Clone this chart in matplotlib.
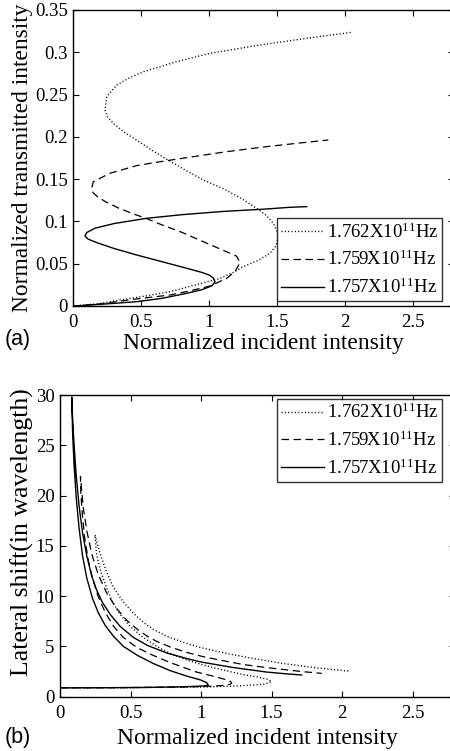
import matplotlib
matplotlib.use("Agg")
import matplotlib.pyplot as plt

plt.rcParams['font.family'] = ['Liberation Serif', 'DejaVu Serif']
plt.rcParams['mathtext.fontset'] = 'custom'
plt.rcParams['mathtext.rm'] = 'Liberation Serif'
plt.rcParams['mathtext.it'] = 'Liberation Serif:italic'

# ---------------- data ----------------
labels = [r"1.762X10$^{\mathrm{11}}$Hz", r"1.759X10$^{\mathrm{11}}$Hz", r"1.757X10$^{\mathrm{11}}$Hz"]

# panel (a): transmitted vs incident intensity
a_dot_x = [0, 0.2, 0.343, 0.5, 0.711, 0.9, 1.079, 1.18, 1.25, 1.36, 1.446, 1.49, 1.507, 1.495, 1.47,
           1.42, 1.348, 1.238, 1.1, 0.956, 0.82, 0.687, 0.58, 0.466, 0.37, 0.294, 0.25, 0.233, 0.246,
           0.319, 0.415, 0.515, 0.76, 1.005, 1.373, 1.716, 2.047]
a_dot_y = [0, 0.003, 0.0071, 0.011, 0.0169, 0.025, 0.0327, 0.040, 0.0465, 0.054, 0.0623, 0.071, 0.082,
           0.090, 0.0978, 0.107, 0.1155, 0.127, 0.139, 0.149, 0.161, 0.1735, 0.184, 0.196, 0.206, 0.216,
           0.224, 0.2318, 0.2475, 0.2613, 0.270, 0.277, 0.2889, 0.2988, 0.3086, 0.3165, 0.3236]

a_dash_x = [0, 0.196, 0.441, 0.711, 0.86, 1.005, 1.128, 1.19, 1.226, 1.2, 1.1, 0.956, 0.8, 0.65, 0.545,
            0.44, 0.33, 0.24, 0.18, 0.145, 0.135, 0.147, 0.27, 0.466, 0.637, 0.9, 1.128, 1.45, 1.74, 1.875]
a_dash_y = [0, 0.0024, 0.0079, 0.013, 0.018, 0.0236, 0.0327, 0.041, 0.0515, 0.059, 0.066, 0.076, 0.087,
            0.096, 0.103, 0.109, 0.116, 0.123, 0.129, 0.134, 0.139, 0.147, 0.157, 0.166, 0.1706, 0.177,
            0.1825, 0.189, 0.194, 0.1963]

a_sol_x = [0, 0.05, 0.2, 0.466, 0.65, 0.834, 0.95, 1.02, 1.042, 1.03, 1.0, 0.95, 0.834, 0.65, 0.466,
           0.3, 0.18, 0.11, 0.086, 0.1, 0.16, 0.3, 0.54, 0.8, 1.1, 1.4, 1.593, 1.716]
a_sol_y = [0, 0.0004, 0.002, 0.0051, 0.009, 0.015, 0.0195, 0.024, 0.0285, 0.033, 0.0365, 0.0395, 0.0446,
           0.0525, 0.0603, 0.068, 0.0745, 0.079, 0.0828, 0.0870, 0.092, 0.0975, 0.1037, 0.108, 0.1118,
           0.1145, 0.1167, 0.1175]

# panel (b): lateral shift vs incident intensity
b_dot_x = [0, 0.5, 1.0, 1.277, 1.45, 1.5, 1.48, 1.42, 1.3, 1.206, 1.1, 1.016, 0.898, 0.78, 0.686,
           0.58, 0.496, 0.42, 0.37, 0.331, 0.29, 0.26, 0.248, 0.284, 0.33, 0.378, 0.45, 0.52, 0.6,
           0.662, 0.757, 0.898, 0.993, 1.2, 1.35, 1.584, 1.8, 2.045]
b_dot_y = [0.88, 0.9, 0.95, 1.08, 1.25, 1.49, 1.7, 1.9, 2.2, 2.5, 2.85, 3.15, 3.65, 4.3, 5.0,
           6.0, 7.0, 8.3, 9.5, 10.8, 12.4, 14.1, 16.1, 14.25, 12.4, 10.9, 9.4, 8.3, 7.3,
           6.7, 6.0, 5.3, 4.9, 4.25, 3.85, 3.3, 2.9, 2.55]

b_dash_x = [0, 0.4, 0.8, 1.05, 1.17, 1.21, 1.218, 1.2, 1.15, 1.111, 0.969, 0.898, 0.78, 0.662, 0.544,
            0.449, 0.38, 0.32, 0.27, 0.23, 0.2, 0.175, 0.158, 0.148, 0.145, 0.165, 0.19, 0.225, 0.27,
            0.331, 0.4, 0.473, 0.544, 0.62, 0.686, 0.78, 0.9, 1.016, 1.15, 1.3, 1.45, 1.6, 1.73, 1.856]
b_dash_y = [0.88, 0.9, 0.95, 1.03, 1.13, 1.25, 1.39, 1.6, 1.8, 1.95, 2.45, 2.8, 3.4, 4.1, 4.9,
            5.9, 7.0, 8.4, 10.0, 11.8, 13.6, 15.8, 18.2, 20.2, 21.9, 18.8, 16.5, 14.2, 12.2,
            10.3, 8.8, 7.6, 6.75, 6.0, 5.5, 4.95, 4.4, 3.98, 3.6, 3.2, 2.92, 2.68, 2.48, 2.32]

b_sol_x = [0, 0.3, 0.6, 0.85, 0.98, 1.03, 1.052, 1.04, 1.0, 0.95, 0.898, 0.78, 0.662, 0.55, 0.45,
           0.38, 0.32, 0.27, 0.23, 0.19, 0.16, 0.135, 0.115, 0.1, 0.09, 0.083, 0.09, 0.1, 0.115, 0.135,
           0.16, 0.19, 0.225, 0.26, 0.3, 0.355, 0.426, 0.52, 0.62, 0.757, 0.898, 1.0, 1.229, 1.466,
           1.6, 1.714]
b_sol_y = [0.88, 0.89, 0.92, 0.98, 1.04, 1.09, 1.16, 1.4, 1.65, 1.85, 2.05, 2.6, 3.3, 4.1, 5.0,
           6.0, 7.1, 8.4, 9.8, 11.8, 14.0, 16.8, 19.8, 23.0, 26.0, 29.8, 27.5, 25.0, 22.0, 19.0,
           16.3, 14.0, 12.0, 10.6, 9.4, 8.2, 7.0, 5.9, 5.1, 4.35, 3.8, 3.45, 2.9, 2.45,
           2.28, 2.16]

x_ticks = [0, 0.5, 1, 1.5, 2, 2.5]
x_ticklabels = ["0", "0.5", "1", "1.5", "2", "2.5"]
a_yticks = [0, 0.05, 0.1, 0.15, 0.2, 0.25, 0.3, 0.35]
a_yticklabels = ["0", "0.05", "0.1", "0.15", "0.2", "0.25", "0.3", "0.35"]
b_yticks = [0, 5, 10, 15, 20, 25, 30]
b_yticklabels = ["0", "5", "10", "15", "20", "25", "30"]

# ---------------- figure ----------------
W, H = 450, 751
fig = plt.figure(figsize=(W / 100, H / 100), dpi=100)

dot_style = dict(color='black', lw=1.0, dashes=(0.8, 1.6))
dash_style = dict(color='black', lw=0.9, dashes=(6.0, 3.6))
sol_style = dict(color='black', lw=1.0)

TICK_FS = 13.5


def style_axes(ax):
    ax.tick_params(direction='in', length=4, width=0.8, top=True, right=True,
                   labelsize=TICK_FS, pad=4)
    ax.tick_params(axis='x', pad=6)
    for s in ax.spines.values():
        s.set_linewidth(1.0)


def add_legend(ax, loc, anchor):
    leg = ax.legend(loc=loc, bbox_to_anchor=anchor, bbox_transform=fig.transFigure,
                    fontsize=TICK_FS, frameon=True, fancybox=False, edgecolor='black',
                    handlelength=2.3, handletextpad=0.15, borderpad=0.2, labelspacing=0.45,
                    borderaxespad=0)
    leg.get_frame().set_linewidth(1.0)
    return leg


# panel (a)
ax1 = fig.add_axes([73.3 / W, (H - 306) / H, 2.8 * 136 / W, 296 / H])
ax1.plot(a_dot_x, a_dot_y, label=labels[0], **dot_style)
ax1.plot(a_dash_x, a_dash_y, label=labels[1], **dash_style)
ax1.plot(a_sol_x, a_sol_y, label=labels[2], **sol_style)
ax1.set_xlim(0, 2.8)
ax1.set_ylim(0, 0.35)
ax1.set_xticks(x_ticks)
ax1.set_xticklabels(x_ticklabels)
ax1.set_yticks(a_yticks)
ax1.set_yticklabels(a_yticklabels)
style_axes(ax1)
ax1.set_xlabel("Normalized incident intensity", fontsize=17, labelpad=1)
ax1.set_ylabel("Normalized transmitted intensity", fontsize=16.8, labelpad=1)
add_legend(ax1, 'lower right', (442 / W, (H - 301) / H))

# panel (b)
ax2 = fig.add_axes([60 / W, (H - 696.7) / H, 2.8 * 141 / W, 301.7 / H])
ax2.plot(b_dot_x, b_dot_y, label=labels[0], **dot_style)
ax2.plot(b_dash_x, b_dash_y, label=labels[1], **dash_style)
ax2.plot(b_sol_x, b_sol_y, label=labels[2], **sol_style)
ax2.set_xlim(0, 2.8)
ax2.set_ylim(0, 30)
ax2.set_xticks(x_ticks)
ax2.set_xticklabels(x_ticklabels)
ax2.set_yticks(b_yticks)
ax2.set_yticklabels(b_yticklabels)
style_axes(ax2)
ax2.set_xlabel("Normalized incident intensity", fontsize=17, labelpad=4)
ax2.set_ylabel("Lateral shift(in wavelength)", fontsize=18.5)
ax2.yaxis.set_label_coords(-0.066, 0.546)
add_legend(ax2, 'upper right', (442 / W, (H - 399) / H))

# panel letters
fig.text(5 / W, 1 - 339 / H, "(a)", family='Liberation Sans', fontsize=15.5, va='center', ha='left')
fig.text(5 / W, 1 - 737 / H, "(b)", family='Liberation Sans', fontsize=15.5, va='center', ha='left')

fig.savefig("out.png", dpi=100)
